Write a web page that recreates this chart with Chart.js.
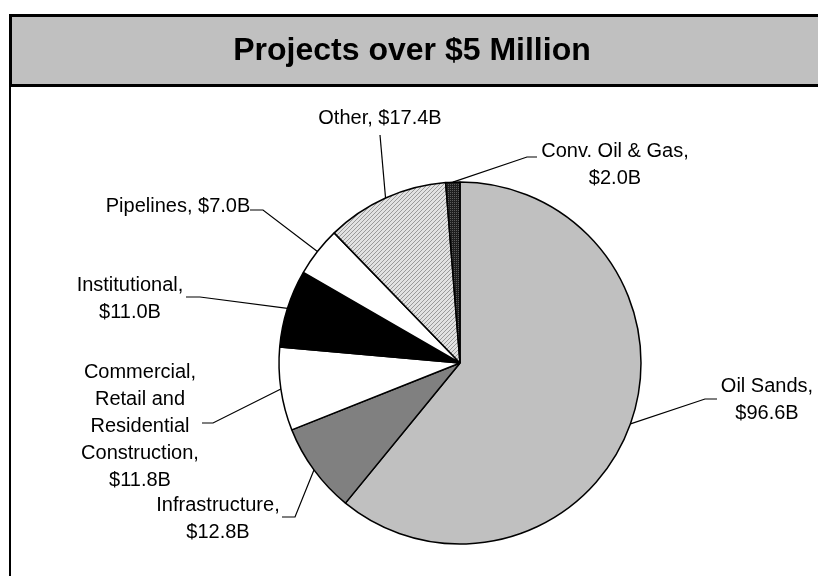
<!DOCTYPE html>
<html>
<head>
<meta charset="utf-8">
<script src="https://cdn.jsdelivr.net/npm/chart.js@4/dist/chart.umd.min.js"></script>
<style>
  html, body { margin: 0; padding: 0; background: #fff; }
  #wrap { position: relative; width: 818px; height: 576px; }
</style>
</head>
<body>
<div id="wrap"><canvas id="projectsChart" width="818" height="576"></canvas></div>
<script>
// Projects over $5 million, by sector ($ billions)
const categories = ['Oil Sands', 'Infrastructure', 'Commercial, Retail and Residential Construction',
                    'Institutional', 'Pipelines', 'Other', 'Conv. Oil & Gas'];
const values = [96.6, 12.8, 11.8, 11.0, 7.0, 17.4, 2.0];

const FONT = '"Liberation Sans", Arial, Helvetica, sans-serif';

// small repeating fills for the two textured slices
function makePattern(size, bg, fg, dots) {
    const c = document.createElement('canvas');
    c.width = size; c.height = size;
    const g = c.getContext('2d');
    g.fillStyle = bg;
    g.fillRect(0, 0, size, size);
    g.fillStyle = fg;
    dots.forEach(([x, y]) => g.fillRect(x, y, 1, 1));
    return g.createPattern(c, 'repeat');
}
const hatch = makePattern(4, '#e2e2e2', '#9a9a9a', [[0, 3], [1, 2], [2, 1], [3, 0]]);
const darkDots = makePattern(2, '#1e1e1e', '#5c5c5c', [[0, 0]]);

const sliceColors = ['#c0c0c0', '#808080', '#ffffff', '#000000', '#ffffff', hatch, darkDots];

// where each callout sits: text centre, first line y, wrap width, leader points
const callouts = [
    { cx: 767, cy: 386, wrap: 110, leader: [[705, 399], [717, 399]] },
    { cx: 218, cy: 505, wrap: 130, leader: [[295, 517], [282, 517]] },
    { cx: 140, cy: 372, wrap: 125, leader: [[213, 423], [202, 423]] },
    { cx: 130, cy: 285, wrap: 120, leader: [[200, 297], [186, 297]] },
    { cx: 178, cy: 206, wrap: 400, leader: [[263, 210], [250, 210]] },
    { cx: 380, cy: 118, wrap: 400, leader: [[380, 135]] },
    { cx: 615, cy: 151, wrap: 165, leader: [[527, 157], [537, 157]] }
];
const LINE_H = 27;

function wrapText(ctx, text, maxWidth) {
    const words = text.split(' ');
    const lines = [];
    let line = '';
    words.forEach(w => {
        const test = line ? line + ' ' + w : w;
        if (line && ctx.measureText(test).width > maxWidth) {
            lines.push(line);
            line = w;
        } else {
            line = test;
        }
    });
    if (line) lines.push(line);
    return lines;
}

// grey title bar and the outer frame
const framePlugin = {
    id: 'frame',
    beforeDraw(chart) {
        const ctx = chart.ctx;
        ctx.save();
        ctx.fillStyle = '#ffffff';
        ctx.fillRect(0, 0, chart.width, chart.height);
        ctx.fillStyle = '#c0c0c0';
        ctx.fillRect(10, 15, 830, 71);
        ctx.strokeStyle = '#000';
        ctx.lineWidth = 3;
        ctx.strokeRect(10.5, 15.5, 830, 70);
        ctx.lineWidth = 2;
        ctx.beginPath();
        ctx.moveTo(10, 86);
        ctx.lineTo(10, chart.height + 5);
        ctx.stroke();
        ctx.fillStyle = '#000';
        ctx.font = 'bold 32px ' + FONT;
        ctx.textAlign = 'center';
        ctx.textBaseline = 'middle';
        ctx.fillText('Projects over $5 Million', 412, 51);
        ctx.restore();
    }
};

// data labels with leader lines from each slice's mid-angle
const calloutPlugin = {
    id: 'callouts',
    afterDatasetsDraw(chart) {
        const ctx = chart.ctx;
        const meta = chart.getDatasetMeta(0);
        ctx.save();
        ctx.font = '20px ' + FONT;
        ctx.fillStyle = '#000';
        ctx.strokeStyle = '#000';
        ctx.lineWidth = 1.2;
        ctx.textAlign = 'center';
        ctx.textBaseline = 'middle';
        meta.data.forEach((arc, i) => {
            const p = arc.getProps(['x', 'y', 'startAngle', 'endAngle', 'outerRadius'], true);
            const mid = (p.startAngle + p.endAngle) / 2;
            const ax = p.x + Math.cos(mid) * p.outerRadius;
            const ay = p.y + Math.sin(mid) * p.outerRadius;
            const c = callouts[i];
            ctx.beginPath();
            ctx.moveTo(ax, ay);
            c.leader.forEach(([x, y]) => ctx.lineTo(x, y));
            ctx.stroke();
            const text = categories[i] + ', $' + values[i].toFixed(1) + 'B';
            wrapText(ctx, text, c.wrap).forEach((ln, k) => {
                ctx.fillText(ln, c.cx, c.cy + k * LINE_H);
            });
        });
        ctx.restore();
    }
};

const ctx = document.getElementById('projectsChart').getContext('2d');
const chart = new Chart(ctx, {
    type: 'pie',
    data: {
        labels: categories,
        datasets: [{
            data: values,
            backgroundColor: sliceColors,
            borderColor: '#000',
            borderWidth: 1.5,
            radius: 181
        }]
    },
    options: {
        responsive: false,
        animation: false,
        events: [],
        layout: { padding: { left: 102, right: 0, top: 150, bottom: 0 } },
        plugins: {
            legend: { display: false },
            tooltip: { enabled: false },
            title: { display: false }
        }
    },
    plugins: [framePlugin, calloutPlugin]
});
</script>
</body>
</html>
